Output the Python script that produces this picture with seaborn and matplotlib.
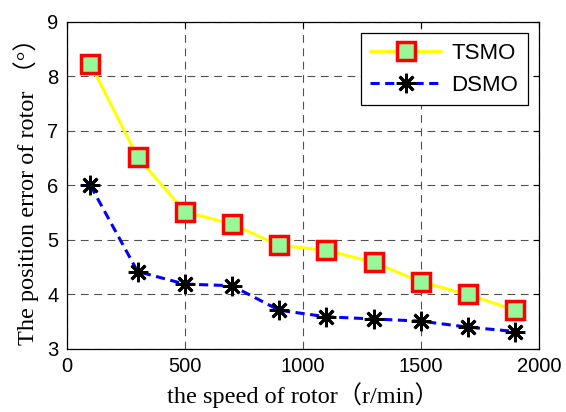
import matplotlib
matplotlib.use("Agg")
import matplotlib.pyplot as plt
import pandas as pd
import seaborn as sns

# Data
speed = [100, 300, 500, 700, 900, 1100, 1300, 1500, 1700, 1900]
tsmo_err = [8.23, 6.52, 5.52, 5.29, 4.90, 4.81, 4.59, 4.23, 4.00, 3.71]
dsmo_err = [6.00, 4.42, 4.19, 4.16, 3.71, 3.59, 3.55, 3.51, 3.40, 3.32]

df = pd.DataFrame({
    "speed": speed * 2,
    "error": tsmo_err + dsmo_err,
    "method": ["TSMO"] * len(speed) + ["DSMO"] * len(speed),
})

sns.set_style("white")
plt.rcParams["font.family"] = ["Liberation Sans", "DejaVu Sans"]
plt.rcParams["text.color"] = "black"
plt.rcParams["axes.labelcolor"] = "black"

fig = plt.figure(figsize=(5.66, 4.12), dpi=100)
ax = fig.add_axes([0.118, 0.153, 0.834, 0.794])

sns.lineplot(
    data=df[df["method"] == "TSMO"], x="speed", y="error", ax=ax,
    color="#ffff00", linewidth=2.2, marker="s", markersize=13,
    markerfacecolor="#98f898", markeredgecolor="#ff0000", markeredgewidth=2.5,
    label="TSMO",
)
sns.lineplot(
    data=df[df["method"] == "DSMO"], x="speed", y="error", ax=ax,
    color="#0000ff", linewidth=2.2, linestyle=(0, (3, 1.8)), marker=(8, 2, 0),
    markersize=14, markeredgecolor="black", markeredgewidth=2.0,
    label="DSMO",
)

ax.set_xlim(0, 2000)
ax.set_ylim(3, 9)
ax.set_xticks([0, 500, 1000, 1500, 2000])
ax.set_yticks(range(3, 10))
ax.grid(True, color="#505050", linestyle=(0, (7, 5)), linewidth=0.8)
ax.tick_params(direction="in", length=4, labelsize=14.5, top=True, right=True,
               colors="black", width=0.8, pad=6)
for s in ax.spines.values():
    s.set_color("black")
    s.set_linewidth(0.9)

lab_font = ["Liberation Serif", "Noto Sans CJK SC"]
ax.set_xlabel("the speed of rotor（r/min）", fontsize=17.5, family=lab_font,
              color="black", labelpad=4)
ax.set_ylabel("The position error of rotor （°）", fontsize=17.5,
              family=lab_font, color="black", labelpad=6)

leg = ax.legend(loc="upper right", fontsize=16, frameon=True, fancybox=False,
                edgecolor="black", framealpha=1, handlelength=3.2,
                handletextpad=0.45, labelspacing=0.5, borderpad=0.43,
                borderaxespad=0.5)
leg.get_frame().set_linewidth(0.9)
for t in leg.get_texts():
    t.set_color("black")

fig.savefig("out.png", dpi=100)
